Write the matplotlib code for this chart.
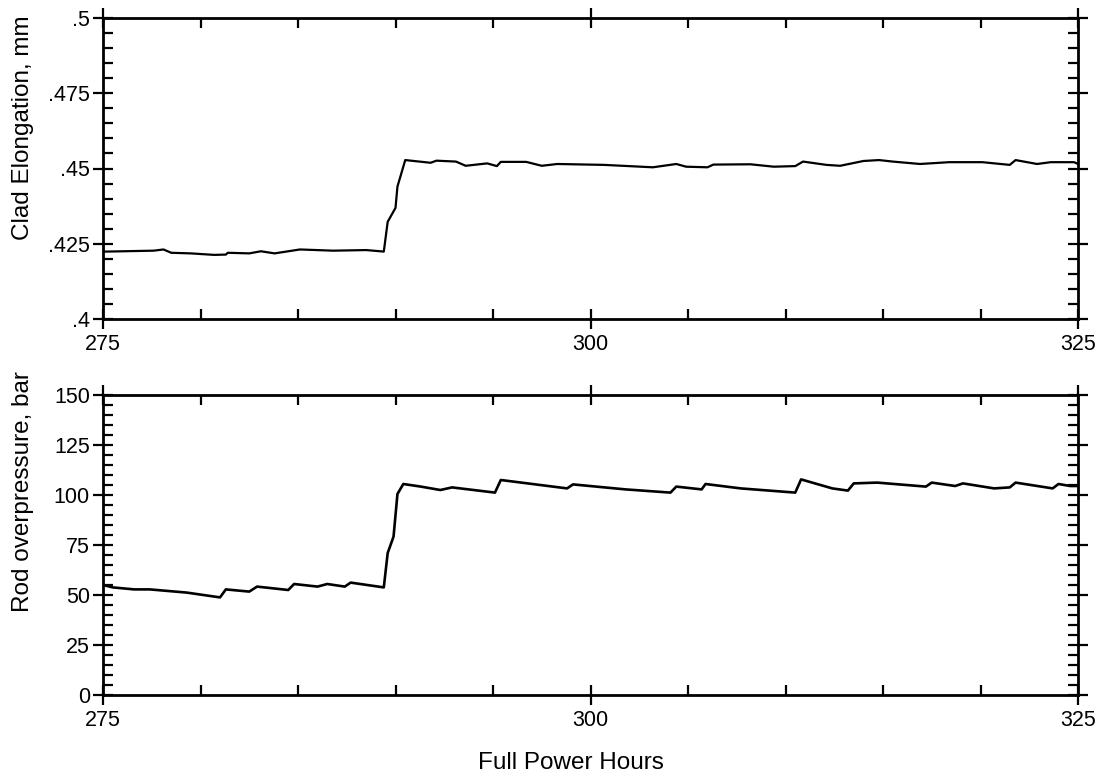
import matplotlib
matplotlib.use("Agg")
import matplotlib.pyplot as plt
from matplotlib.ticker import MultipleLocator, FixedLocator, FuncFormatter

plt.rcParams['font.family'] = ['Liberation Sans', 'DejaVu Sans']

# Clad elongation (mm) vs full power hours
elong_hours = [275.0, 275.2, 277.6, 278.1, 278.5, 279.5, 280.7, 281.3, 281.4, 282.5,
               283.1, 283.8, 285.1, 286.8, 288.5, 289.4, 289.6, 290.0, 290.1, 290.5,
               291.8, 292.1, 293.1, 293.6, 294.7, 295.2, 295.4, 296.7, 297.5, 298.3,
               300.7, 303.2, 304.4, 304.9, 306.0, 306.3, 308.2, 309.4, 310.5, 310.9,
               312.1, 312.8, 314.0, 314.8, 315.5, 316.9, 318.4, 320.1, 321.5, 321.8,
               322.9, 323.6, 324.8, 325.0]
elong_mm = [0.4224, 0.4224, 0.4227, 0.4231, 0.4220, 0.4218, 0.4213, 0.4214, 0.4220, 0.4218,
            0.4225, 0.4218, 0.4231, 0.4227, 0.4229, 0.4224, 0.4323, 0.4369, 0.4440, 0.4528,
            0.4519, 0.4526, 0.4523, 0.4509, 0.4517, 0.4508, 0.4522, 0.4522, 0.4509, 0.4515,
            0.4512, 0.4504, 0.4515, 0.4506, 0.4504, 0.4513, 0.4514, 0.4506, 0.4508, 0.4523,
            0.4512, 0.4509, 0.4525, 0.4528, 0.4523, 0.4515, 0.4521, 0.4521, 0.4512, 0.4528,
            0.4515, 0.4521, 0.4521, 0.4515]

# Rod overpressure (bar) vs full power hours
press_hours = [275.0, 275.5, 276.6, 277.4, 279.3, 281.0, 281.3, 282.5, 282.9, 284.5,
               284.8, 286.0, 286.5, 287.4, 287.7, 289.4, 289.6, 289.9, 290.1, 290.4,
               291.3, 292.3, 292.9, 295.1, 295.4, 298.8, 299.1, 301.8, 304.1, 304.4,
               305.7, 305.9, 307.7, 310.5, 310.8, 312.4, 313.2, 313.5, 314.7, 317.2,
               317.5, 318.7, 319.1, 320.7, 321.5, 321.8, 323.7, 324.0, 324.6, 325.0]
press_bar = [55.0, 53.8, 52.8, 52.8, 51.2, 48.8, 52.8, 51.7, 54.2, 52.5,
             55.5, 54.2, 55.5, 54.2, 56.2, 53.8, 71.0, 79.2, 100.5, 105.5,
             104.2, 102.5, 103.8, 101.2, 107.5, 103.3, 105.3, 102.8, 101.2, 104.2,
             102.8, 105.5, 103.3, 101.2, 107.8, 103.3, 102.2, 105.8, 106.2, 104.2,
             106.2, 104.5, 105.8, 103.3, 103.8, 106.2, 103.3, 105.5, 104.5, 104.5]

x_ticks = [275, 300, 325]
elong_ticks = [0.4, 0.425, 0.45, 0.475, 0.5]
press_ticks = [0, 25, 50, 75, 100, 125, 150]

fig = plt.figure(figsize=(11.15, 7.79), dpi=100)
W, H = 1115, 779
ax1 = fig.add_axes([103 / W, 1 - 319 / H, 975 / W, 301 / H])
ax2 = fig.add_axes([103 / W, 1 - 695 / H, 975 / W, 300 / H])

ax1.plot(elong_hours, elong_mm, color='black', lw=1.6)
ax2.plot(press_hours, press_bar, color='black', lw=1.9)


def dotfmt(v, pos):
    s = ('%.3f' % v).rstrip('0')
    if s.startswith('0'):
        s = s[1:]
    return s


for ax in (ax1, ax2):
    ax.set_xlim(275, 325)
    ax.xaxis.set_major_locator(FixedLocator(x_ticks))
    ax.xaxis.set_minor_locator(MultipleLocator(5))
    for s in ax.spines.values():
        s.set_linewidth(2.0)
    ax.tick_params(which='major', direction='inout', length=15, width=1.6,
                   top=True, right=True, labelsize=15.5, pad=2)
    ax.tick_params(which='minor', direction='in', length=7, width=1.6,
                   top=True, right=True)
    ax.tick_params(axis='x', which='major', pad=3)

ax1.set_ylim(0.4, 0.5)
ax1.yaxis.set_major_locator(FixedLocator(elong_ticks))
ax1.yaxis.set_minor_locator(MultipleLocator(0.005))
ax1.yaxis.set_major_formatter(FuncFormatter(dotfmt))

ax2.set_ylim(0, 150)
ax2.yaxis.set_major_locator(FixedLocator(press_ticks))
ax2.yaxis.set_minor_locator(MultipleLocator(5))

fig.text(23 / W, 1 - 128 / H, 'Clad Elongation, mm', rotation=90,
         ha='center', va='center', fontsize=17.5)
fig.text(23 / W, 1 - 492 / H, 'Rod overpressure, bar', rotation=90,
         ha='center', va='center', fontsize=17.5)
fig.text(571 / W, 1 - 763 / H, 'Full Power Hours', ha='center', va='center',
         fontsize=17.5)

fig.savefig('out.png', dpi=100)
